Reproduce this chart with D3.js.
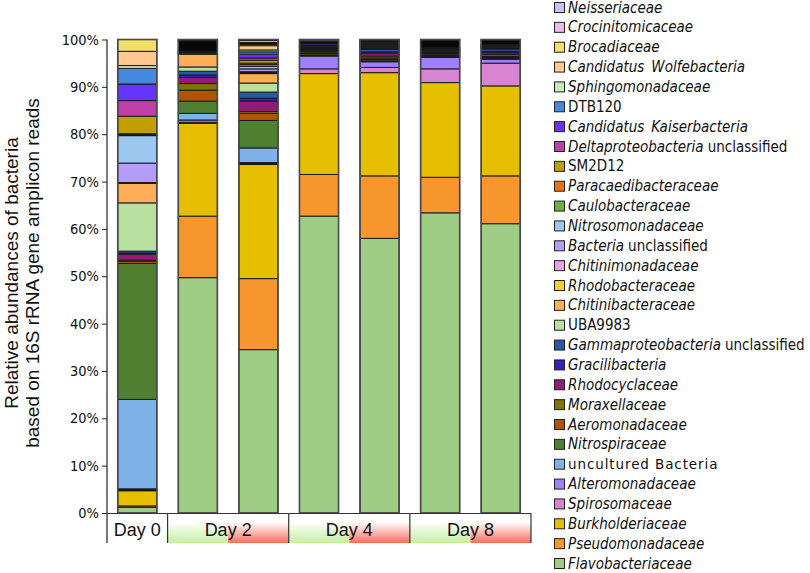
<!DOCTYPE html>
<html><head><meta charset="utf-8">
<script src="https://cdn.jsdelivr.net/npm/d3@7"></script>
<style>
body{margin:0;background:#fff;}
svg{display:block;}
.cond{font-family:"DejaVu Sans Condensed","DejaVu Sans",sans-serif;font-stretch:condensed;}
</style></head><body>
<svg id="c" width="810" height="573"></svg>
<script>
// ---- data ----
const samples = ["D0","D2a","D2b","D4a","D4b","D8a","D8b"];
const groups = ["Day 0","Day 2","Day 4","Day 8"];
const groupOf = [0,1,1,2,2,3,3];
const condition = ["none","green","red","green","red","green","red"];
const yTicks = [0,10,20,30,40,50,60,70,80,90,100];
// stack order, bottom to top
const taxa = ["Flavobacteriaceae","Pseudomonadaceae","Burkholderiaceae","Spirosomaceae","Alteromonadaceae",
 "uncultured Bacteria","Nitrospiraceae","Aeromonadaceae","Moraxellaceae","Rhodocyclaceae","Gracilibacteria",
 "Gammaproteobacteria unclassified","UBA9983","Chitinibacteraceae","Rhodobacteraceae","Chitinimonadaceae",
 "Bacteria unclassified","Nitrosomonadaceae","Caulobacteraceae","Paracaedibacteraceae","SM2D12",
 "Deltaproteobacteria unclassified","Candidatus Kaiserbacteria","DTB120","Sphingomonadaceae",
 "Candidatus Wolfebacteria","Brocadiaceae","Others","Crocinitomicaceae","Neisseriaceae"];
const colors = ["#a0cd85","#f7962c","#e6c000","#d785d0","#a080fc",
 "#7eb2e8","#507f32","#b05400","#807400","#901c78","#3420c0",
 "#2c56a8","#b8e0a0","#ffae58","#f0d030","#e8a4e0",
 "#b49cf8","#9cc8f0","#6cb040","#f07010","#c0a000",
 "#c040a8","#6634ff","#4488e0","#c8e8b8",
 "#ffc890","#f0e068","#080808","#f0b8e8","#c8c0f8"];
const nonItalic = ["DTB120","SM2D12","UBA9983","uncultured Bacteria"];
const day0  = [1.2,0.3,3.2,0.2,0.2,18.9,28.7,0.5,0.2,1.3,0.2,0.4,10.2,4.1,0.1,0.1,4.1,5.8,0.2,0.2,3.7,3.3,3.5,3.3,0.6,3.0,2.5,0,0,0];
const day2a = [49.7,13.0,19.6,0.2,0.5,1.4,2.6,2.3,1.4,1.3,0.5,0.8,0.9,2.7,0.1,0.1,0.1,0.1,0,0,0.1,0,0.1,0,0,0,0,2.2,0.2,0.1];
const day2b = [34.5,15.0,24.1,0.2,0.2,3.1,5.8,1.5,0.4,2.2,0.6,1.3,1.9,2.0,0.2,0.2,0.6,0.5,0.4,0.3,0.6,0.5,0.8,0.5,0.4,0.9,0.3,0.4,0.4,0.2];
const day4a = [62.7,8.8,21.3,1.0,2.7,0.2,0.3,0.2,0.3,0.2,0.2,0.2,0.1,0.1,0,0.1,0.1,0.1,0,0,0.1,0.1,0.3,0.1,0,0,0,0.4,0.3,0.1];
const day4b = [58.0,13.2,21.8,1.1,1.2,0.2,0.3,0.3,0.4,0.6,0.3,0.5,0.2,0.2,0,0.1,0.2,0.1,0.1,0.1,0.1,0.1,0.1,0.1,0.1,0.1,0,0.2,0.2,0.1];
const day8a = [63.4,7.5,20.0,2.9,2.4,0.1,0.2,0.1,0.3,0.2,0.1,0.2,0.1,0.1,0,0.1,0.1,0.1,0,0,0,0.1,0.2,0.1,0,0,0,1.6,0.1,0];
const day8b = [61.1,10.1,19.0,4.8,0.8,0.2,0.2,0.2,0.4,0.4,0.3,0.5,0.1,0.1,0,0.1,0.1,0.1,0,0,0.1,0.1,0.1,0.1,0,0,0,1.0,0.1,0];
const sampleValues = [day0,day2a,day2b,day4a,day4b,day8a,day8b];

// ---- chart ----
const svg = d3.select("#c");
const x = d3.scaleBand().domain(samples).range([107,531]).paddingInner(0.355).paddingOuter(0.1775);
const y = d3.scaleLinear().domain([0,100]).range([513,39.5]);
const color = d3.scaleOrdinal().domain(taxa).range(colors);

const rows = samples.map((s,i)=>{const r={sample:s}; taxa.forEach((t,j)=>r[t]=sampleValues[i][j]); return r;});
const series = d3.stack().keys(taxa)(rows);

// x category boxes with gradients
const defs = svg.append("defs");
const gradCols = {green:"#c4ee9c", red:"#f7705e"};
Object.entries(gradCols).forEach(([k,c])=>{
  const g = defs.append("linearGradient").attr("id","g_"+k).attr("x1",0).attr("y1",0).attr("x2",0).attr("y2",1);
  g.append("stop").attr("offset","0%").attr("stop-color","#fff");
  g.append("stop").attr("offset","30%").attr("stop-color","#fff");
  g.append("stop").attr("offset","100%").attr("stop-color",c);
});
const step = x.step(), halfGap = step*x.paddingInner()/2;
const cellL = s => x(s)-halfGap, cellR = s => x(s)+x.bandwidth()+halfGap;
const boxTop = y(0), boxBot = 543;
svg.append("g").selectAll("rect").data(samples.filter((s,i)=>condition[i]!=="none")).join("rect")
  .attr("x",s=>cellL(s)).attr("width",s=>cellR(s)-cellL(s))
  .attr("y",boxTop).attr("height",boxBot-boxTop)
  .attr("fill",s=>"url(#g_"+condition[samples.indexOf(s)]+")");

// group borders and labels
const gInfo = groups.map((g,gi)=>{
  const ss = samples.filter((s,i)=>groupOf[i]===gi);
  return {name:g, l:cellL(ss[0]), r:cellR(ss[ss.length-1])};
});
svg.append("g").selectAll("line").data(gInfo).join("line")
  .attr("x1",d=>d.r).attr("x2",d=>d.r).attr("y1",boxTop).attr("y2",boxBot)
  .attr("stroke","#333").attr("stroke-width",1.2);
svg.append("g").selectAll("text").data(gInfo).join("text")
  .attr("x",d=>(d.l+d.r)/2).attr("y",536).attr("text-anchor","middle")
  .attr("font-family","Liberation Sans, Arial, sans-serif").attr("font-size",18).attr("fill","#111")
  .text(d=>d.name);

// bars
const bars = svg.append("g");
series.forEach(s=>{
  bars.append("g").attr("fill",color(s.key)).selectAll("rect")
    .data(s.filter(d=>d[1]-d[0]>0)).join("rect")
    .attr("x",d=>x(d.data.sample)).attr("width",x.bandwidth())
    .attr("y",d=>y(d[1])).attr("height",d=>y(d[0])-y(d[1]))
    .attr("stroke","#1a1a1a").attr("stroke-width",1);
});
bars.append("g").selectAll("rect").data(rows).join("rect")
  .attr("x",d=>x(d.sample)).attr("width",x.bandwidth())
  .attr("y",y(100)).attr("height",y(0)-y(100))
  .attr("fill","none").attr("stroke","#4a4a4a").attr("stroke-width",1.6);

// axes
const yAxis = svg.append("g").attr("transform","translate(107,0)")
  .call(d3.axisLeft(y).tickValues(yTicks).tickSize(5).tickPadding(3).tickFormat(d=>d+"%"));
yAxis.select(".domain").remove();
yAxis.selectAll(".tick line").attr("stroke","#222");
yAxis.selectAll(".tick text").attr("class","cond").attr("font-size",14.5).attr("fill","#111");
svg.append("line").attr("x1",107).attr("x2",107).attr("y1",y(100)).attr("y2",boxBot).attr("stroke","#222").attr("stroke-width",1.2);
svg.append("line").attr("x1",103).attr("x2",gInfo[gInfo.length-1].r).attr("y1",y(0)+0.5).attr("y2",y(0)+0.5).attr("stroke","#333").attr("stroke-width",1.2);

// y title
const yt = svg.append("text").attr("transform","translate(0,273) rotate(-90)")
  .attr("text-anchor","middle").attr("font-family","Liberation Sans, Arial, sans-serif").attr("font-size",19).attr("fill","#111");
yt.append("tspan").attr("x",0).attr("y",18).text("Relative abundances of bacteria");
yt.append("tspan").attr("x",0).attr("y",39).text("based on 16S rRNA gene amplicon reads");

// legend
const legendTaxa = taxa.filter(t=>t!=="Others").reverse();
const ly = d3.scalePoint().domain(legendTaxa).range([7,563]);
const lg = svg.append("g").selectAll("g").data(legendTaxa).join("g")
  .attr("transform",t=>`translate(554,${ly(t)})`);
lg.append("rect").attr("x",0.5).attr("y",-4.5).attr("width",10).attr("height",10)
  .attr("fill",t=>color(t)).attr("stroke","#222").attr("stroke-width",1);
lg.each(function(t){
  const txt = d3.select(this).append("text").attr("x",14).attr("y",5.5).attr("class","cond")
    .attr("font-size",15).attr("fill","#111");
  if(t==="uncultured Bacteria"){
    txt.attr("class",null).attr("font-family","DejaVu Sans, sans-serif").attr("font-size",13.5)
      .attr("letter-spacing",0.9).text(t);
  } else if(nonItalic.includes(t)){
    txt.text(t);
  } else if(t.endsWith(" unclassified")){
    txt.append("tspan").attr("font-style","italic").text(t.replace(" unclassified",""));
    txt.append("tspan").attr("dx",4).text("unclassified");
  } else if(t.startsWith("Candidatus ")){
    txt.append("tspan").attr("font-style","italic").text("Candidatus");
    txt.append("tspan").attr("font-style","italic").attr("dx",7).text(t.replace("Candidatus ",""));
  } else {
    txt.attr("font-style","italic").text(t);
  }
});
</script>
</body></html>
